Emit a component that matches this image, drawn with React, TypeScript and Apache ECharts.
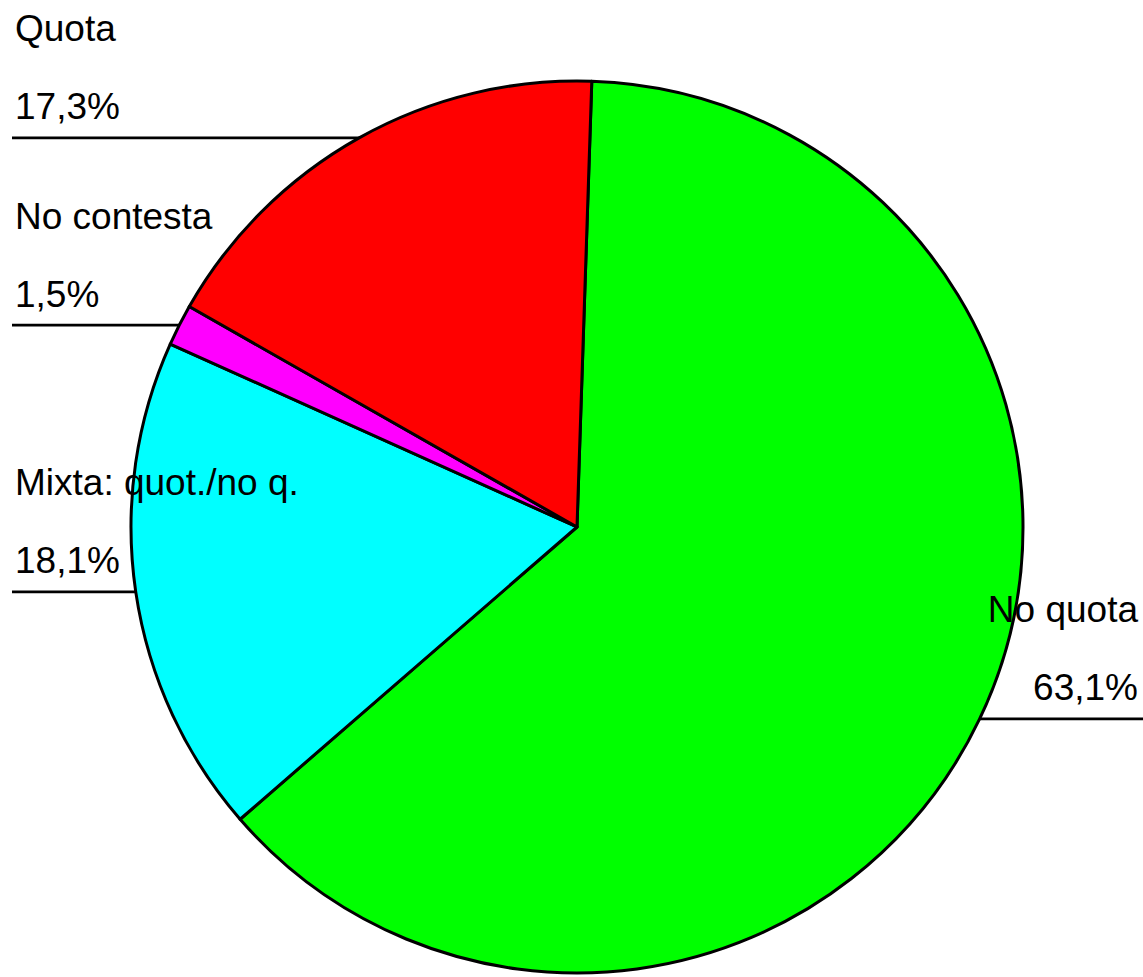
import React, { useEffect, useRef } from 'react';
import * as echarts from 'echarts';

const categories = ['No quota', 'Mixta: quot./no q.', 'No contesta', 'Quota'];
const values = [63.1, 18.1, 1.5, 17.3];
const colors = ['#00FF00', '#00FFFF', '#FF00FF', '#FF0000'];

const START_ANGLE = 88.1;
const CENTER = [577, 527];
const RADIUS = 446;
const LEFT_X = 15;
const RIGHT_X = 1138;

function midEdge(i: number): number[] {
  const total = values.reduce((a, b) => a + b, 0);
  let cum = 0;
  for (let k = 0; k < i; k++) cum += values[k];
  const ang = ((START_ANGLE - (360 * (cum + values[i] / 2)) / total) * Math.PI) / 180;
  return [CENTER[0] + RADIUS * Math.cos(ang), CENTER[1] - RADIUS * Math.sin(ang)];
}

export default function App() {
  const ref = useRef<HTMLDivElement>(null);
  useEffect(() => {
    if (!ref.current) return;
    const chart = echarts.init(ref.current, null, { renderer: 'svg' });
    chart.setOption({
      animation: false,
      backgroundColor: '#ffffff',
      series: [
        {
          type: 'pie',
          center: CENTER,
          radius: RADIUS,
          startAngle: START_ANGLE,
          clockwise: true,
          avoidLabelOverlap: false,
          data: categories.map((name, i) => ({
            name,
            value: values[i],
            itemStyle: { color: colors[i] },
          })),
          itemStyle: { borderColor: '#000000', borderWidth: 3 },
          emphasis: { disabled: true },
          label: {
            show: true,
            position: 'outside',
            formatter: (p: any) => `${p.name}\n${p.value.toFixed(1).replace('.', ',')}%`,
            fontFamily: 'Liberation Sans, Arial, sans-serif',
            fontSize: 37,
            lineHeight: 78,
            color: '#000000',
            width: 500,
            overflow: 'none',
          },
          labelLine: {
            show: true,
            length: 0,
            length2: 0,
            smooth: false,
            lineStyle: { color: '#000000', width: 2.8 },
          },
          labelLayout: (params: any) => {
            const [ex, ey] = midEdge(params.dataIndex);
            const right = ex > CENTER[0];
            return {
              x: right ? RIGHT_X : LEFT_X,
              y: ey + 8,
              align: right ? 'right' : 'left',
              verticalAlign: 'bottom',
              labelLinePoints: [
                [ex, ey],
                [ex, ey],
                [right ? 1143 : 12, ey],
              ],
            };
          },
        },
      ],
    });
    return () => chart.dispose();
  }, []);
  return (
    <div
      ref={ref}
      style={{ position: 'absolute', left: 0, top: 0, width: 1143, height: 977 }}
    />
  );
}
